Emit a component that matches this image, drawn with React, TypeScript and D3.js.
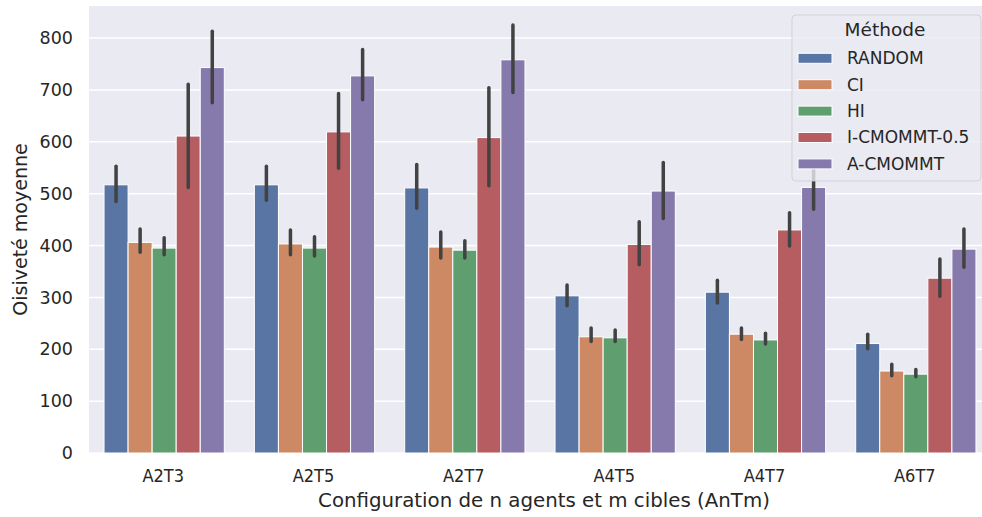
import React from 'react';
import * as d3 from 'd3';

const configs = ['A2T3', 'A2T5', 'A2T7', 'A4T5', 'A4T7', 'A6T7'];
const methods = ['RANDOM', 'CI', 'HI', 'I-CMOMMT-0.5', 'A-CMOMMT'];
const colors = ['#5975a4', '#cc8963', '#5f9e6e', '#b55d60', '#857aab'];

// mean per method, one value per config
const randomMean = [517, 517, 511, 303, 310, 211];
const ciMean = [406, 403, 397, 224, 229, 158];
const hiMean = [395, 395, 391, 222, 218, 152];
const icmommtMean = [611, 619, 608, 402, 430, 337];
const acmommtMean = [743, 727, 758, 505, 512, 393];

// confidence intervals [low, high]
const randomCI = [[485, 553], [487, 553], [472, 556], [284, 324], [289, 333], [201, 229]];
const ciCI = [[387, 432], [382, 430], [376, 426], [215, 241], [219, 241], [149, 171]];
const hiCI = [[382, 415], [380, 417], [376, 409], [215, 237], [210, 231], [147, 161]];
const icmommtCI = [[512, 711], [549, 693], [515, 704], [363, 446], [399, 463], [302, 374]];
const acmommtCI = [[675, 813], [681, 778], [695, 825], [452, 560], [470, 546], [358, 432]];

const yTicks = [0, 100, 200, 300, 400, 500, 600, 700, 800];

const means = [randomMean, ciMean, hiMean, icmommtMean, acmommtMean];
const cis = [randomCI, ciCI, hiCI, icmommtCI, acmommtCI];

const BarChart = () => {
  const ref = React.useRef(null);

  React.useEffect(() => {
    const svg = d3.select(ref.current);
    svg.selectAll('*').remove();

    const left = 89;
    const right = 991;
    const top = 6;
    const bottom = 453;
    const textColor = '#262626';
    const font = 'DejaVu Sans, sans-serif';

    const x = d3.scaleBand().domain(configs).range([left, right]);
    const inner = d3.scaleBand().domain(methods).range([0, x.bandwidth() * 0.8]);
    const y = d3.scaleLinear().domain([0, 861.7]).range([bottom, top]);

    svg.append('rect')
      .attr('x', left).attr('y', top)
      .attr('width', right - left).attr('height', bottom - top)
      .attr('fill', '#eaeaf2');

    svg.append('g')
      .selectAll('line')
      .data(yTicks)
      .join('line')
      .attr('x1', left).attr('x2', right)
      .attr('y1', d => y(d)).attr('y2', d => y(d))
      .attr('stroke', '#ffffff').attr('stroke-width', 1.5);

    methods.forEach((m, mi) => {
      const g = svg.append('g');
      const off = x.bandwidth() * 0.1 + inner(m);
      g.selectAll('rect')
        .data(configs)
        .join('rect')
        .attr('x', d => x(d) + off)
        .attr('width', inner.bandwidth())
        .attr('y', (d, i) => y(means[mi][i]))
        .attr('height', (d, i) => y(0) - y(means[mi][i]))
        .attr('fill', colors[mi])
        .attr('stroke', '#ffffff')
        .attr('stroke-width', 1);
      g.selectAll('line')
        .data(configs)
        .join('line')
        .attr('x1', d => x(d) + off + inner.bandwidth() / 2)
        .attr('x2', d => x(d) + off + inner.bandwidth() / 2)
        .attr('y1', (d, i) => y(cis[mi][i][0]))
        .attr('y2', (d, i) => y(cis[mi][i][1]))
        .attr('stroke', '#424242')
        .attr('stroke-width', 3.5)
        .attr('stroke-linecap', 'round');
    });

    // y axis labels
    svg.append('g')
      .selectAll('text')
      .data(yTicks)
      .join('text')
      .attr('x', 73)
      .attr('y', d => y(d))
      .attr('dy', '0.35em')
      .attr('text-anchor', 'end')
      .attr('font-family', font).attr('font-size', 17.5)
      .attr('fill', textColor)
      .text(d => d);

    // x axis labels
    svg.append('g')
      .selectAll('text')
      .data(configs)
      .join('text')
      .attr('x', d => x(d) + x.bandwidth() / 2 - 1)
      .attr('y', 482)
      .attr('text-anchor', 'middle')
      .attr('font-family', font).attr('font-size', 18)
      .attr('font-stretch', 'condensed')
      .attr('fill', textColor)
      .text(d => d);

    svg.append('text')
      .attr('x', 544)
      .attr('y', 507)
      .attr('text-anchor', 'middle')
      .attr('font-family', font).attr('font-size', 19.8)
      .attr('fill', textColor)
      .text('Configuration de n agents et m cibles (AnTm)');

    svg.append('text')
      .attr('transform', `translate(27, ${(top + bottom) / 2}) rotate(-90)`)
      .attr('text-anchor', 'middle')
      .attr('font-family', font).attr('font-size', 19)
      .attr('fill', textColor)
      .text('Oisiveté moyenne');

    // legend
    const lg = svg.append('g').attr('transform', 'translate(792, 15)');
    lg.append('rect')
      .attr('width', 189).attr('height', 166)
      .attr('rx', 4)
      .attr('fill', '#eaeaf2').attr('fill-opacity', 0.8)
      .attr('stroke', '#cccccc').attr('stroke-opacity', 0.8);
    lg.append('text')
      .attr('x', 93).attr('y', 15).attr('dy', '0.35em')
      .attr('text-anchor', 'middle')
      .attr('font-family', font).attr('font-size', 18.5)
      .attr('fill', textColor)
      .text('Méthode');
    const rows = lg.selectAll('g.row')
      .data(methods)
      .join('g')
      .attr('transform', (d, i) => `translate(0, ${43.3 + i * 26.4})`);
    rows.append('rect')
      .attr('x', 6).attr('y', -5)
      .attr('width', 34).attr('height', 10)
      .attr('fill', (d, i) => colors[i])
      .attr('stroke', '#ffffff').attr('stroke-width', 1);
    rows.append('text')
      .attr('x', 55).attr('dy', '0.35em')
      .attr('font-family', font).attr('font-size', 17)
      .attr('fill', textColor)
      .text(d => d);
  }, []);

  return (
    <svg ref={ref} width="982" height="517"
      style={{ position: 'absolute', left: 0, top: 0, background: '#ffffff' }} />
  );
};

export default function App() {
  return <BarChart />;
}
